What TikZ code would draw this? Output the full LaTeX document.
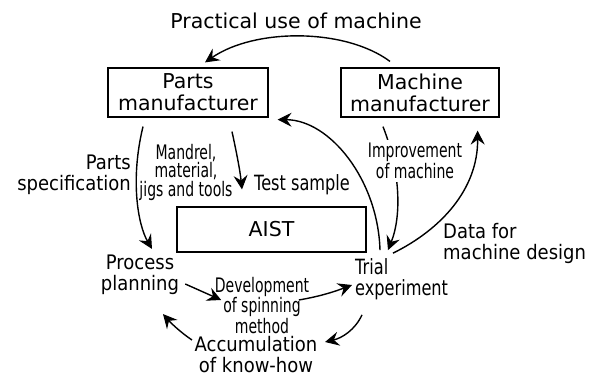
\documentclass[tikz,border=0pt]{standalone}
\usepackage{fontspec}
\setmainfont{DejaVu Sans}
\newfontfamily\condf[FakeStretch=0.7]{DejaVu Sans}
\newfontfamily\condg[FakeStretch=0.77]{DejaVu Sans}
\newfontfamily\midfnt[FakeStretch=0.9]{DejaVu Sans}
\usetikzlibrary{arrows.meta}
\begin{document}
\begin{tikzpicture}[x=1pt,y=-1pt,
 box/.style={draw, line width=1.2pt, inner sep=0pt, align=center, font=\fontsize{20.5}{22}\selectfont},
 lbl/.style={inner sep=0pt, align=center, font=\midfnt\fontsize{20}{21}\selectfont},
 cond/.style={inner sep=0pt, align=center, font=\condf\fontsize{20}{20.5}\selectfont},
 condb/.style={inner sep=0pt, align=center, font=\condg\fontsize{21}{21}\selectfont},
 flow/.style={line width=1.4pt, -{Stealth[length=14pt,width=14pt,inset=5pt,line width=1pt]}},
]
\useasboundingbox (0,0) rectangle (598,381);
\node[box, minimum width=160pt, minimum height=49pt] (pm) at (188,92.5) {Parts\\manufacturer};
\node[box, minimum width=158pt, minimum height=49pt] (mm) at (420,92.5) {Machine\\manufacturer};
\node[box, minimum width=189pt, minimum height=45pt] (aist) at (271.5,229.5) {AIST};
\node[inner sep=0pt, font=\fontsize{20.5}{22}\selectfont] (title) at (296,21) {Practical use of machine};
\node[lbl] (pp) at (140,275) {Process\\planning};
\node[condb, align=left, anchor=west] (te) at (355,279) {Trial\\experiment};
\node[lbl, align=left, anchor=west] (dm) at (443,243) {Data for\\machine design};
\node[cond] (dev) at (262,305.5) {Development\\of spinning\\method};
\node[lbl] (acc) at (256,355) {Accumulation\\of know-how};
\node[lbl, align=right, anchor=east] (ps) at (131,175) {Parts\\specification};
\node[cond, font=\condf\fontsize{20}{17.5}\selectfont] (mat) at (186,172) {Mandrel,\\material,\\jigs and tools};
\node[condb] (ts) at (302,185) {Test sample};

\draw[flow] ([xshift=-30pt,yshift=6pt]mm.north) .. controls (345,28) and (255,28) .. ([xshift=17pt,yshift=5pt]pm.north);
\draw[flow] ([xshift=-45pt,yshift=-9pt]pm.south) .. controls (130,180) and (138,225) .. ([xshift=12pt,yshift=6pt]pp.north);
\draw[flow] ([xshift=44pt,yshift=-14pt]pm.south) .. controls (236,150) and (240,170) .. ([xshift=-29.5pt,yshift=17pt]aist.north);
\draw[flow] ([xshift=25pt,yshift=8pt]te.north west) .. controls (378,180) and (330,120) .. ([xshift=9pt,yshift=-2pt]pm.south east);
\draw[flow] ([xshift=-37pt,yshift=-9pt]mm.south) .. controls (400,170) and (402,215) .. ([xshift=33pt,yshift=8pt]te.north west);
\draw[flow] ([xshift=38pt,yshift=5pt]te.north west) .. controls (440,230) and (478,190) .. ([xshift=-22pt,yshift=-13pt]mm.south east);
\draw[flow] ([xshift=6pt,yshift=-9pt]pp.east) -- ([xshift=6.5pt,yshift=5.5pt]dev.west);
\draw[flow] ([xshift=-10.5pt,yshift=5.5pt]dev.east) .. controls (322,296) and (336,291) .. ([xshift=-3pt,yshift=-6pt]te.west);
\draw[flow] ([xshift=7pt,yshift=-15pt]te.south west) .. controls (355,330) and (342,338) .. ([xshift=7.5pt,yshift=13pt]acc.east);
\draw[flow] ([xshift=-2.5pt,yshift=15pt]acc.west) .. controls (180,332) and (170,322) .. ([xshift=23pt,yshift=-19pt]pp.south);

\node[cond, fill=white, inner sep=3pt] (imp) at (415,161) {Improvement\\of machine};
\end{tikzpicture}
\end{document}
